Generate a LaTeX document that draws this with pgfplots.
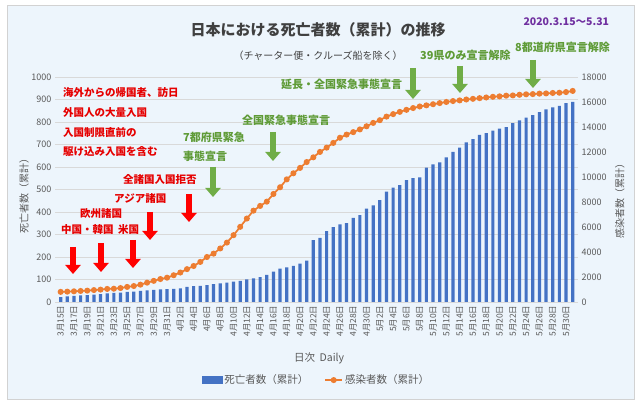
\documentclass[border=0pt]{standalone}
\usepackage{fontspec}
\setmainfont{Noto Sans CJK JP}
\usepackage{pgfplots}
\pgfplotsset{compat=1.18}
\usepackage{pgfplotstable}
\usetikzlibrary{arrows.meta}

\definecolor{barblue}{HTML}{4472C4}
\definecolor{lineorange}{HTML}{ED7D31}
\definecolor{bgblue}{HTML}{EDF5FC}
\definecolor{gridgray}{HTML}{D9D9D9}
\definecolor{txtgray}{HTML}{595959}
\definecolor{annred}{HTML}{E60000}
\definecolor{arrred}{HTML}{FF0000}
\definecolor{anngreen}{HTML}{5F9B37}
\definecolor{arrgreen}{HTML}{70AD47}
\definecolor{titlegray}{HTML}{404040}
\definecolor{purp}{HTML}{7030A0}

\pgfplotstableread{
i deaths cases
0 22 810
1 25 828
2 27 855
3 29 882
4 31 909
5 33 954
6 35 990
7 38 1044
8 41 1062
9 42 1116
10 45 1206
11 46 1278
12 49 1386
13 52 1548
14 54 1692
15 56 1836
16 57 1944
17 58 2142
18 60 2358
19 67 2628
20 70 2880
21 72 3204
22 75 3600
23 79 3870
24 83 4284
25 86 4752
26 90 5346
27 94 6012
28 101 6678
29 105 7308
30 110 7686
31 120 8028
32 135 8640
33 148 9180
34 154 9810
35 160 10296
36 171 10728
37 184 11196
38 275 11574
39 285 12006
40 315 12348
41 333 12726
42 345 13140
43 351 13392
44 374 13590
45 386 13806
46 415 14058
47 429 14328
48 453 14544
49 490 14832
50 508 15030
51 519 15210
52 542 15372
53 550 15516
54 554 15642
55 597 15732
56 612 15822
57 620 15912
58 643 16002
59 667 16074
60 686 16128
61 709 16200
62 724 16254
63 743 16308
64 750 16362
65 762 16416
66 770 16452
67 777 16506
68 795 16524
69 807 16578
70 819 16614
71 831 16632
72 844 16668
73 856 16686
74 865 16722
75 872 16740
76 884 16794
77 889 16884
}\data

\begin{document}
\begin{tikzpicture}
\useasboundingbox (0,0) rectangle (640pt,406pt);
\fill[white] (0,0) rectangle (640pt,406pt);
\begin{scope}[x=1pt,y=-1pt,yshift=406pt]
  \filldraw[fill=bgblue, draw=gray!35, line width=0.8pt] (7,5) rectangle (634,399);
\end{scope}

\begin{axis}[
  at={(55pt,104pt)}, anchor=south west, scale only axis,
  width=523pt, height=225pt,
  xmin=-0.85, xmax=77.8, ymin=0, ymax=1000,
  axis x line*=bottom, axis y line*=left,
  axis line style={draw=none}, major tick length=0pt,
  ytick={0,100,...,1000},
  ymajorgrids, grid style={gridgray, line width=0.7pt},
  xtick={0,2,...,76},
  xticklabels={3月15日,3月17日,3月19日,3月21日,3月23日,3月25日,3月27日,3月29日,3月31日,4月2日,4月4日,4月6日,4月8日,4月10日,4月12日,4月14日,4月16日,4月18日,4月20日,4月22日,4月24日,4月26日,4月28日,4月30日,5月2日,5月4日,5月6日,5月8日,5月10日,5月12日,5月14日,5月16日,5月18日,5月20日,5月22日,5月24日,5月26日,5月28日,5月30日},
  xticklabel style={rotate=90, anchor=east, font=\fontsize{8.5}{8.5}\selectfont, text=txtgray},
  yticklabel style={font=\fontsize{9}{9}\selectfont, text=txtgray},
  scaled y ticks=false,
  /pgf/number format/assume math mode=true,
  /pgf/number format/1000 sep={},
  ylabel={死亡者数（累計）},
  ylabel style={at={(axis description cs:-0.059,0.484)}, anchor=center, font=\fontsize{10}{10}\selectfont, text=txtgray},
  xlabel={日次\ \ Daily},
  xlabel style={at={(axis description cs:0.505,-0.249)}, anchor=center, font=\fontsize{10.5}{10.5}\selectfont, text=txtgray},
]
\addplot[ybar, bar width=3.2pt, fill=barblue, draw=none] table[x=i,y=deaths]{\data};
\end{axis}

\begin{axis}[
  at={(55pt,104pt)}, anchor=south west, scale only axis,
  width=523pt, height=225pt,
  xmin=-0.85, xmax=77.8, ymin=0, ymax=18000,
  axis x line=none, axis y line*=right,
  axis line style={draw=none}, major tick length=0pt,
  ytick={0,2000,...,18000}, xtick=\empty,
  scaled y ticks=false,
  yticklabel style={font=\fontsize{9}{9}\selectfont, text=txtgray},
  /pgf/number format/assume math mode=true,
  /pgf/number format/1000 sep={},
  ylabel={感染者数（累計）},
  ylabel style={at={(axis description cs:1.080,0.462)}, anchor=center, font=\fontsize{10}{10}\selectfont, text=txtgray},
  legend style={at={(0.5,-0.347)}, anchor=center, draw=none, fill=none,
    legend columns=2, font=\fontsize{10.5}{10.5}\selectfont, text=txtgray,
    /tikz/every even column/.append style={column sep=14pt}},
]
\addlegendimage{legend image code/.code={\fill[barblue] (0pt,-3.5pt) rectangle (20pt,3.5pt);}}
\addlegendentry{死亡者数（累計）}
\addplot[lineorange, line width=1.75pt, mark=*, mark size=2.1pt,
  mark options={fill=lineorange, draw=lineorange}] table[x=i,y=cases]{\data};
\addlegendentry{感染者数（累計）}
\end{axis}

\begin{scope}[x=1pt,y=-1pt,yshift=406pt]
  % titles
  \node[font=\bfseries\fontsize{15}{15}\selectfont, text=titlegray] at (318,30) {日本における死亡者数（累計）の推移};
  \node[font=\fontsize{10}{10}\selectfont, text=titlegray, anchor=west] at (230,56) {（チャーター便・クルーズ船を除く）};
  \node[font=\bfseries\fontsize{10.5}{10.5}\selectfont, text=purp, anchor=west] at (520,22) {2020.3.15～5.31};
  % red annotations
  \begin{scope}[every node/.style={font=\bfseries\fontsize{10.5}{10.5}\selectfont, text=annred, anchor=west, inner sep=0pt}]
    \node at (63,93) {海外からの帰国者、訪日};
    \node at (63,113) {外国人の大量入国};
    \node at (63,133) {入国制限直前の};
    \node at (63,152) {駆け込み入国を含む};
    \node at (123,180) {全諸国入国拒否};
    \node at (114,199) {アジア諸国};
    \node at (80,214) {欧州諸国};
    \node at (61,230) {中国・韓国};
    \node at (118,230) {米国};
  \end{scope}
  \begin{scope}[arrred, line width=5.5pt, -{Triangle[width=15pt,length=9pt]}]
    \draw (73,247) -- (73,274);
    \draw (101,243) -- (101,272);
    \draw (133,240) -- (133,268);
    \draw (150,212) -- (150,240);
    \draw (189,194) -- (189,222);
  \end{scope}
  % green annotations
  \begin{scope}[every node/.style={font=\bfseries\fontsize{11}{11}\selectfont, text=anngreen, anchor=west, inner sep=0pt}]
    \node at (183,137) {7都府県緊急};
    \node at (183,156) {事態宣言};
    \node at (242,120) {全国緊急事態宣言};
    \node at (281,84) {延長・全国緊急事態宣言};
    \node at (420,55) {39県のみ宣言解除};
    \node at (515,47) {8都道府県宣言解除};
  \end{scope}
  \begin{scope}[arrgreen, line width=5.5pt, -{Triangle[width=15pt,length=9pt]}]
    \draw (213,167) -- (213,197);
    \draw (273,132) -- (273,161);
    \draw (413,68) -- (413,99);
    \draw (460,66) -- (460,93);
    \draw (533,60) -- (533,88);
  \end{scope}
\end{scope}
\end{tikzpicture}
\end{document}
